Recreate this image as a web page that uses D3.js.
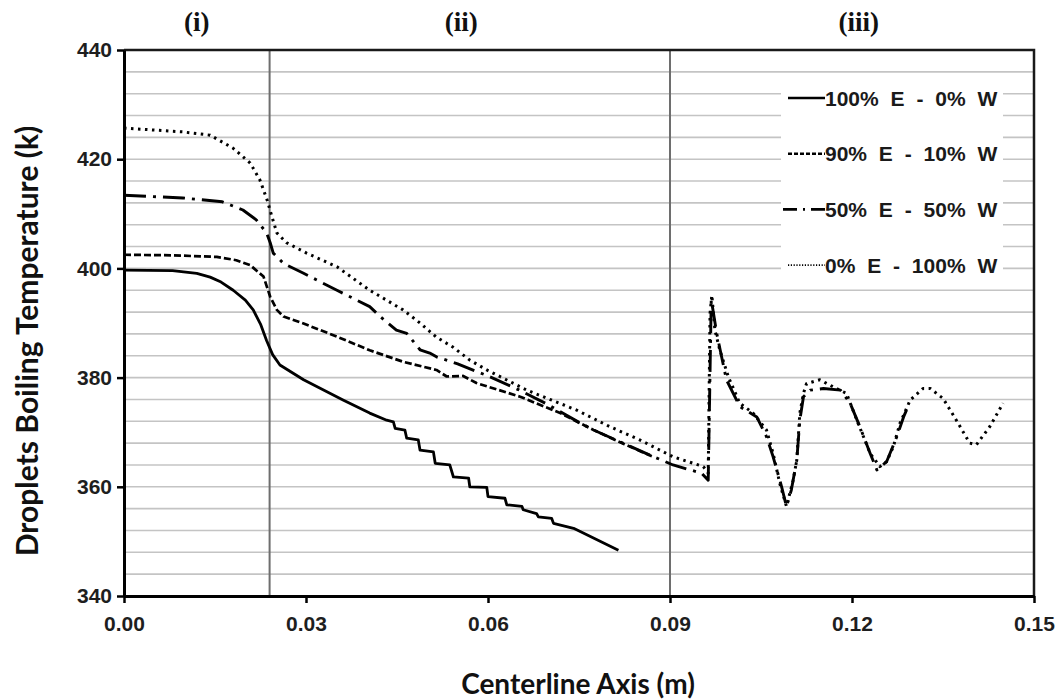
<!DOCTYPE html>
<html>
<head>
<meta charset="utf-8">
<script src="https://cdn.jsdelivr.net/npm/d3@7"></script>
<style>
  html, body { margin: 0; padding: 0; background: #fff; }
  svg { display: block; }
  .tick text { font-family: "Liberation Sans Narrow", "Arial Narrow", "Liberation Sans", sans-serif; font-weight: bold; font-size: 21px; fill: #1e1e1e; }
</style>
</head>
<body>
<script>
// Droplet boiling temperature along the centerline for four ethanol/water blends.
const seriesNames = ["100% E - 0% W", "90% E - 10% W", "50% E - 50% W", "0% E - 100% W"];
const regionLabels = ["(i)", "(ii)", "(iii)"];
const regionBounds = [0.024, 0.09];          // x positions of the zone separators (m)
const regionLabelX = [0.012, 0.0556, 0.1211]; // where the zone labels sit (m)
const xTicks = [0, 0.03, 0.06, 0.09, 0.12, 0.15];
const yTicks = [340, 360, 380, 400, 420, 440];

// [centerline position (m), boiling temperature (K)]
const pure_ethanol = [
  [0.000, 399.7], [0.008, 399.6], [0.012, 399.1], [0.0142, 398.4], [0.016, 397.5],
  [0.018, 396.0], [0.020, 394.2], [0.0213, 392.4], [0.0225, 389.8], [0.0235, 386.8],
  [0.0245, 384.2], [0.0257, 382.3], [0.0296, 379.6], [0.0361, 375.9], [0.0405, 373.5],
  [0.0433, 372.2], [0.0444, 371.9], [0.0447, 370.7], [0.0463, 370.4], [0.0466, 368.9],
  [0.0485, 368.6], [0.0488, 366.7], [0.051, 366.4], [0.0513, 364.3], [0.0537, 364.0],
  [0.0543, 361.8], [0.0568, 361.6], [0.057, 360.0], [0.0598, 359.9], [0.060, 358.2],
  [0.0628, 357.9], [0.0631, 356.7], [0.0656, 356.4], [0.0658, 355.8], [0.068, 355.1],
  [0.0683, 354.5], [0.0705, 354.2], [0.0708, 353.3], [0.0741, 352.4], [0.0752, 351.8],
  [0.0815, 348.4]
];
const ethanol_90 = [
  [0.000, 402.5], [0.008, 402.4], [0.0153, 402.1], [0.0185, 401.5], [0.0208, 400.6],
  [0.023, 398.5], [0.0241, 394.8], [0.0252, 392.4], [0.0263, 391.2], [0.0296, 389.9],
  [0.0351, 387.5], [0.0405, 385.0], [0.046, 382.9], [0.0515, 381.4], [0.0532, 380.2],
  [0.0559, 380.3], [0.0581, 379.0], [0.0653, 376.5], [0.0719, 373.5], [0.0774, 370.4],
  [0.0825, 367.8], [0.087, 365.6]
];
const ethanol_50 = [
  [0.000, 413.4], [0.0097, 412.9], [0.0162, 412.2], [0.0196, 410.7], [0.0218, 408.9],
  [0.0235, 406.5], [0.0241, 404.7], [0.0246, 402.8], [0.0263, 400.9], [0.0296, 399.1],
  [0.0351, 396.0], [0.0405, 393.0], [0.0422, 391.2], [0.0449, 388.7], [0.0466, 388.1],
  [0.0488, 385.1], [0.0504, 384.5], [0.0515, 383.8], [0.055, 382.5], [0.060, 380.3],
  [0.065, 377.8], [0.070, 375.0], [0.075, 371.8], [0.0774, 370.4], [0.0867, 365.8],
  [0.0905, 364.0], [0.0952, 362.5], [0.0963, 361.2], [0.0968, 394.3], [0.0977, 388.1],
  [0.0993, 379.6], [0.1015, 374.7], [0.1043, 372.8], [0.1059, 369.2], [0.107, 365.5],
  [0.1084, 360.0], [0.1092, 356.4], [0.110, 359.4], [0.1109, 364.9], [0.1114, 372.2],
  [0.112, 376.5], [0.1131, 377.7], [0.1153, 378.0], [0.1181, 377.7], [0.1197, 375.3],
  [0.1213, 371.0], [0.123, 366.1], [0.1241, 363.1], [0.1257, 364.6], [0.1274, 369.2],
  [0.1285, 372.8], [0.129, 374.1]
];
const pure_water = [
  [0.000, 425.7], [0.0097, 425.0], [0.0142, 424.4], [0.018, 422.0], [0.0208, 419.3],
  [0.0224, 416.2], [0.0236, 412.5], [0.0244, 409.4], [0.0252, 406.5], [0.0268, 404.7],
  [0.0301, 402.8], [0.0351, 400.3], [0.0405, 396.0], [0.046, 392.4], [0.0488, 390.0],
  [0.0515, 387.4], [0.0542, 385.6], [0.0570, 383.2], [0.0598, 381.4], [0.0625, 379.9],
  [0.0664, 377.7], [0.0747, 374.0], [0.0801, 371.0], [0.085, 368.6], [0.0905, 365.5],
  [0.0955, 363.7], [0.0963, 362.5], [0.0966, 391.8], [0.0969, 395.1], [0.0974, 388.7],
  [0.0982, 385.1], [0.0996, 380.2], [0.1015, 375.3], [0.1037, 373.5], [0.1059, 370.4],
  [0.107, 366.1], [0.1081, 360.6], [0.1092, 356.4], [0.1103, 361.2], [0.1109, 364.9],
  [0.1114, 373.5], [0.112, 377.1], [0.1125, 378.9], [0.1147, 379.6], [0.1169, 378.3],
  [0.1191, 377.1], [0.1208, 372.2], [0.123, 366.1], [0.1246, 363.7], [0.1257, 364.6],
  [0.1268, 367.3], [0.1279, 371.6], [0.1296, 375.9], [0.1317, 378.0], [0.1329, 378.0],
  [0.135, 376.2], [0.1372, 372.2], [0.1394, 368.0], [0.1405, 367.7], [0.1427, 371.0],
  [0.1449, 375.3]
];

const seriesData = [pure_ethanol, ethanol_90, ethanol_50, pure_water];
const seriesDash = [null, "7,3", "22,7,3,7", "2.5,4.5"];
const seriesWidth = [2.8, 2.7, 2.9, 3.0];

const W = 1062, H = 700;
const margin = { top: 50, right: 28, bottom: 104, left: 124 };

const svg = d3.select("body").append("svg").attr("width", W).attr("height", H);

const x = d3.scaleLinear().domain([0, 0.15]).range([margin.left, W - margin.right]);
const y = d3.scaleLinear().domain([340, 440]).range([H - margin.bottom, margin.top]);

// minor horizontal gridlines every 4 K
svg.append("g").selectAll("line")
  .data(d3.range(344, 440, 4))
  .join("line")
  .attr("x1", x(0)).attr("x2", x(0.15))
  .attr("y1", d => y(d)).attr("y2", d => y(d))
  .attr("stroke", "#c4c4c4").attr("stroke-width", 1.6);

// zone separators
svg.append("g").selectAll("line")
  .data(regionBounds)
  .join("line")
  .attr("x1", d => x(d)).attr("x2", d => x(d))
  .attr("y1", y(440)).attr("y2", y(340))
  .attr("stroke", "#6e6e6e").attr("stroke-width", 2);

// zone labels above the plot
svg.append("g").selectAll("text")
  .data(regionLabels)
  .join("text")
  .attr("x", (d, i) => x(regionLabelX[i]))
  .attr("y", 31)
  .attr("text-anchor", "middle")
  .attr("font-family", "'Liberation Serif', 'DejaVu Serif', serif")
  .attr("font-weight", "bold")
  .attr("font-size", 27)
  .attr("fill", "#111")
  .text(d => d);

// curves
const line = d3.line().x(d => x(d[0])).y(d => y(d[1]));
svg.append("g").selectAll("path")
  .data(seriesData)
  .join("path")
  .attr("d", line)
  .attr("fill", "none")
  .attr("stroke", "#000")
  .attr("stroke-width", (d, i) => seriesWidth[i])
  .attr("stroke-dasharray", (d, i) => seriesDash[i])
  .attr("stroke-linejoin", "round");

// legend
const legend = svg.append("g");
legend.append("rect")
  .attr("x", 781).attr("y", 84).attr("width", 222).attr("height", 202)
  .attr("fill", "#fff");
const legendRows = legend.selectAll("g")
  .data(seriesNames)
  .join("g")
  .attr("transform", (d, i) => `translate(0,${98 + i * 55.7})`);
legendRows.append("line")
  .attr("x1", (d, i) => i === 2 ? 783 : 788).attr("x2", 825)
  .attr("y1", 0).attr("y2", 0)
  .attr("stroke", "#000")
  .attr("stroke-width", (d, i) => i === 3 ? 1.8 : 2.6)
  .attr("stroke-dasharray", (d, i) => ["", "4,2", "14,6,2,6", "1.2,1.6"][i]);
legendRows.append("text")
  .attr("x", 825).attr("y", 0).attr("dy", "0.36em")
  .attr("font-family", "'Liberation Sans', Arial, sans-serif")
  .attr("font-weight", "bold")
  .attr("font-size", 21)
  .attr("word-spacing", 6)
  .attr("fill", "#1a1a1a")
  .text(d => d);

// plot frame (top and right)
svg.append("path")
  .attr("d", `M${x(0)},${y(440)}H${x(0.15)}V${y(340)}`)
  .attr("fill", "none").attr("stroke", "#1a1a1a").attr("stroke-width", 2.5);

// axes
const yAxis = svg.append("g")
  .attr("transform", `translate(${x(0)},0)`)
  .call(d3.axisLeft(y).tickValues(yTicks).tickFormat(d3.format("d")).tickSize(7).tickSizeOuter(0).tickPadding(5));
const xAxis = svg.append("g")
  .attr("transform", `translate(0,${y(340)})`)
  .call(d3.axisBottom(x).tickValues(xTicks).tickFormat(d3.format(".2f")).tickSize(7).tickSizeOuter(0).tickPadding(13));
[yAxis, xAxis].forEach(g => {
  g.select(".domain").attr("stroke", "#000").attr("stroke-width", 3);
  g.selectAll(".tick line").attr("stroke", "#000").attr("stroke-width", 2.5);
});

// axis titles
svg.append("text")
  .attr("x", 578).attr("y", 694)
  .attr("text-anchor", "middle")
  .attr("font-family", "Lato, 'Open Sans', sans-serif")
  .attr("font-weight", "bold")
  .attr("font-size", 28)
  .attr("fill", "#111")
  .text("Centerline Axis (m)");
svg.append("text")
  .attr("transform", `translate(38,341) rotate(-90)`)
  .attr("text-anchor", "middle")
  .attr("font-family", "Lato, 'Open Sans', sans-serif")
  .attr("font-weight", "bold")
  .attr("font-size", 30)
  .attr("fill", "#111")
  .text("Droplets Boiling Temperature (k)");
</script>
</body>
</html>
